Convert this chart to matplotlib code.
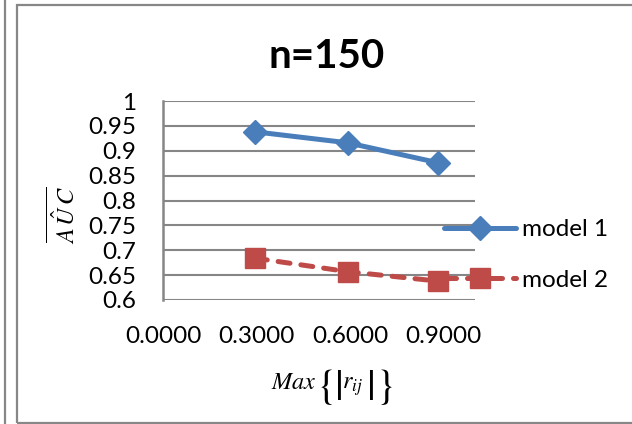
import matplotlib
matplotlib.use("Agg")
import matplotlib.pyplot as plt
from matplotlib.lines import Line2D
from matplotlib.patches import Rectangle
from matplotlib.ticker import FixedLocator, FuncFormatter

# Data
max_r = [0.296, 0.592, 0.881]
model1_auc = [0.938, 0.916, 0.876]
model2_auc = [0.684, 0.657, 0.638]
series_labels = ["model 1", "model 2"]
x_ticks = [0.0, 0.3, 0.6, 0.9]
y_ticks = [0.6, 0.65, 0.7, 0.75, 0.8, 0.85, 0.9, 0.95, 1.0]
title = "n=150"

plt.rcParams["font.family"] = ["Lato", "DejaVu Sans"]
plt.rcParams["mathtext.fontset"] = "stix"

W, H = 632, 424
fig = plt.figure(figsize=(W / 100, H / 100), dpi=100)

def fx(px):
    return px / W

def fy(py):
    return 1 - py / H

ax = fig.add_axes([fx(163), fy(300), fx(475) - fx(163), fy(101) - fy(300)])

blue = "#4A7EBB"
red = "#BE4B48"
grid = "#868686"

ax.plot(max_r, model1_auc, color=blue, lw=3.6, marker="D", ms=12,
        solid_capstyle="round", label=series_labels[0], zorder=4)
ax.plot(max_r, model2_auc, color=red, lw=3.6, marker="s", ms=14,
        linestyle=(0, (2.4, 2.2)), dash_capstyle="round",
        label=series_labels[1], zorder=4)

ax.set_xlim(0, 1.0)
ax.set_ylim(0.6, 1.0)
ax.xaxis.set_major_locator(FixedLocator(x_ticks))
ax.yaxis.set_major_locator(FixedLocator(y_ticks))
ax.xaxis.set_major_formatter(FuncFormatter(lambda v, p: f"{v:.4f}"))
ax.yaxis.set_major_formatter(FuncFormatter(lambda v, p: f"{v:g}"))
ax.tick_params(axis="both", length=0, labelsize=17.5, colors="black")
ax.tick_params(axis="y", pad=19)
ax.tick_params(axis="x", pad=19)

ax.grid(axis="y", color=grid, lw=1.5)
ax.set_axisbelow(True)
for side in ["top", "right", "bottom"]:
    ax.spines[side].set_visible(False)
ax.spines["left"].set_color(grid)
ax.spines["left"].set_linewidth(1.8)

fig.text(fx(327), fy(57), title, ha="center", va="center",
         fontsize=29, fontweight="bold")

# y-axis label
fig.text(fx(63), fy(215), r"$\overline{A\,\hat{U}\,C}$", ha="center",
         va="center", rotation=90, fontsize=17.5)

# x-axis label, built from pieces so the delimiters can be tall
base_y = fy(389)
mid_y = fy(387)
fig.text(fx(294), base_y, r"$Max$", ha="center", va="baseline", fontsize=17.5)
fig.text(fx(324), mid_y, r"$\{$", ha="center", va="center", fontsize=30)
fig.text(fx(338), mid_y, r"$|$", ha="center", va="center", fontsize=32)
fig.text(fx(352), base_y, r"$r_{ij}$", ha="center", va="baseline",
         fontsize=17.5)
fig.text(fx(370), mid_y, r"$|$", ha="center", va="center", fontsize=32)
fig.text(fx(384), mid_y, r"$\}$", ha="center", va="center", fontsize=30)

leg = ax.legend(loc="center left", bbox_to_anchor=(fx(444), fy(255)),
                bbox_transform=fig.transFigure, frameon=False, fontsize=17.5,
                borderpad=0, borderaxespad=0, handlelength=2.95,
                handletextpad=0.25, labelspacing=1.2)

# chart frame
fig.add_artist(Rectangle((fx(16.5), fy(422.5)), fx(640) - fx(16.5),
                         fy(5) - fy(422.5), transform=fig.transFigure,
                         fill=False, edgecolor="#878787", lw=1.6))
fig.add_artist(Line2D([fx(4.5), fx(4.5)], [0, 1], transform=fig.transFigure,
                      color="#878787", lw=1.6))

fig.savefig("out.png", dpi=100)
